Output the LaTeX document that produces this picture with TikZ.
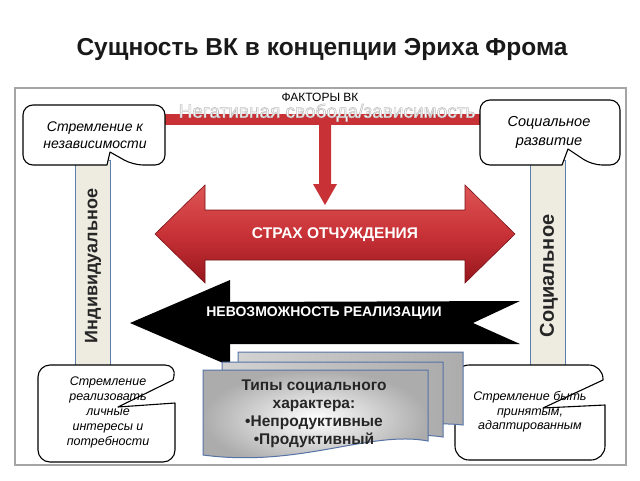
\documentclass[tikz,border=0pt]{standalone}
\usepackage{fontspec}
\setmainfont{Liberation Sans}
\definecolor{redbarc}{RGB}{200,50,55}
\definecolor{redtop}{RGB}{222,85,85}
\definecolor{redbot}{RGB}{150,22,28}
\definecolor{barfill}{RGB}{238,236,225}
\definecolor{barline}{RGB}{95,125,170}
\definecolor{docline}{RGB}{85,115,165}
\definecolor{framec}{RGB}{165,165,165}
\newcommand{\myoutlined}[1]{\special{pdf:literal q 2 Tr 0.6 w 0.75 0.75 0.75 RG}#1\special{pdf:literal Q}}
\tikzset{
  callout/.style={draw=black, line width=1.1pt, fill=white, line join=round},
  calltext/.style={align=center, inner sep=0pt},
  barst/.style={draw=barline, line width=1pt, fill=barfill},
  bartext/.style={rotate=90, inner sep=0pt, text=black!85},
  arrowtext/.style={text=white, inner sep=0pt},
  docback/.style={draw=docline, line width=1pt, left color=gray!35, right color=gray!65},
  negfont/.style={font=\fontsize{19}{21}\selectfont, inner sep=0pt},
}
\begin{document}
\begin{tikzpicture}[x=1pt,y=-1pt]
\useasboundingbox (0,0) rectangle (640,480);
\fill[white] (0,0) rectangle (640,480);

% title
\node[font=\bfseries\fontsize{24.5}{29}\selectfont, text=black!90] (title) at (322,49) {Сущность ВК в концепции Эриха Фрома};

% frame
\draw[draw=framec, line width=1.5pt] (15,88) rectangle (626,465);

% vertical bars
\draw[barst] (75,160) rectangle (110,368);
\draw[barst] (530,160) rectangle (565,368);
\node[bartext, font=\bfseries\fontsize{18}{20}\selectfont] (indiv) at (93,266) {Индивидуальное};
\node[bartext, font=\bfseries\fontsize{20}{22}\selectfont] (soc) at (549,276) {Социальное};

% red factor bar
\fill[redbarc] (160,114) rectangle (485,125);
\fill[redbarc] (319,120) -- (331,120) -- (331,184) -- (337,184) -- (325,205) -- (313,184) -- (319,184) -- cycle;
\node[font=\fontsize{12}{13}\selectfont, inner sep=0pt] (factors) at (320,97) {ФАКТОРЫ ВК};
\node[negfont, text=white] (neg) at (327,112.6) {\myoutlined{Негативная свобода/зависимость}};

% red double arrow
\draw[draw=redbot!80!black, line width=0.6pt, top color=redtop, bottom color=redbot, middle color=redbarc]
  (155,234) -- (205,185) -- (205,210) -- (465,210) -- (465,185) -- (515,234)
  -- (465,283) -- (465,260) -- (205,260) -- (205,283) -- cycle;
\node[arrowtext, font=\bfseries\fontsize{15.5}{17}\selectfont] (fear) at (335,235) {СТРАХ ОТЧУЖДЕНИЯ};

% black arrow
\fill[black] (130,323) -- (230,280) -- (230,302) -- (520,301) -- (473,323) -- (520,344)
  -- (230,344) -- (230,366) -- cycle;
\node[arrowtext, font=\bfseries\fontsize{14}{16}\selectfont] (imposs) at (324,313) {НЕВОЗМОЖНОСТЬ РЕАЛИЗАЦИИ};

% top-left callout
\draw[callout] (23,135) [rounded corners=10pt] -- (23,105) -- (165,105) -- (165,165) -- (133,165)
  [sharp corners] -- (110,152) -- (107,165) [rounded corners=10pt] -- (23,165) -- cycle;
\node[calltext, font=\itshape\fontsize{14}{17}\selectfont] (c1) at (95,135) {Стремление к\\независимости};

% top-right callout
\draw[callout] (480,135) [rounded corners=10pt] -- (480,100) -- (620,100) -- (620,165) -- (592,165)
  [sharp corners] -- (568,149) -- (562,165) [rounded corners=10pt] -- (480,165) -- cycle;
\node[calltext, font=\itshape\fontsize{14.5}{19}\selectfont] (c2) at (549,132) {Социальное\\развитие};

% bottom-left callout
\draw[callout] (38,410) [rounded corners=12pt] -- (38,365) -- (177,365) [sharp corners] -- (173,380)
  -- (118,407) -- (175,403) [rounded corners=12pt] -- (175,462) -- (38,462) -- cycle;
\node[calltext, font=\itshape\fontsize{12.5}{15}\selectfont] (c3) at (108,412) {Стремление\\реализовать\\личные\\интересы и\\потребности};

% bottom-right callout
\draw[callout] (455,410) [rounded corners=14pt] -- (455,365) -- (603,365) [sharp corners] -- (603,380)
  -- (543,408) -- (605,405) [rounded corners=14pt] -- (605,460) -- (455,460) -- cycle;
\node[calltext, font=\itshape\fontsize{12.5}{14.5}\selectfont] (c4) at (530,412) {Стремление быть\\принятым,\\адаптированным};

% document stack
\draw[docback] (238,352) -- (463,352) -- (463,425) .. controls (420,420) and (300,432) .. (238,428) -- cycle;
\draw[docback] (222,362) -- (443,362) -- (443,437) .. controls (400,430) and (290,445) .. (222,440) -- cycle;
\draw[draw=docline, line width=1pt, inner color=white, outer color=gray!65]
  (203,370) -- (428,370) -- (428,441) .. controls (370,430) and (300,468) .. (203,455) -- cycle;
\node[font=\bfseries\fontsize{15.5}{18}\selectfont, align=center, text=black!85, inner sep=0pt] (types) at (314,414)
  {Типы социального\\характера:\\•Непродуктивные\\•Продуктивный};
\end{tikzpicture}
\end{document}
